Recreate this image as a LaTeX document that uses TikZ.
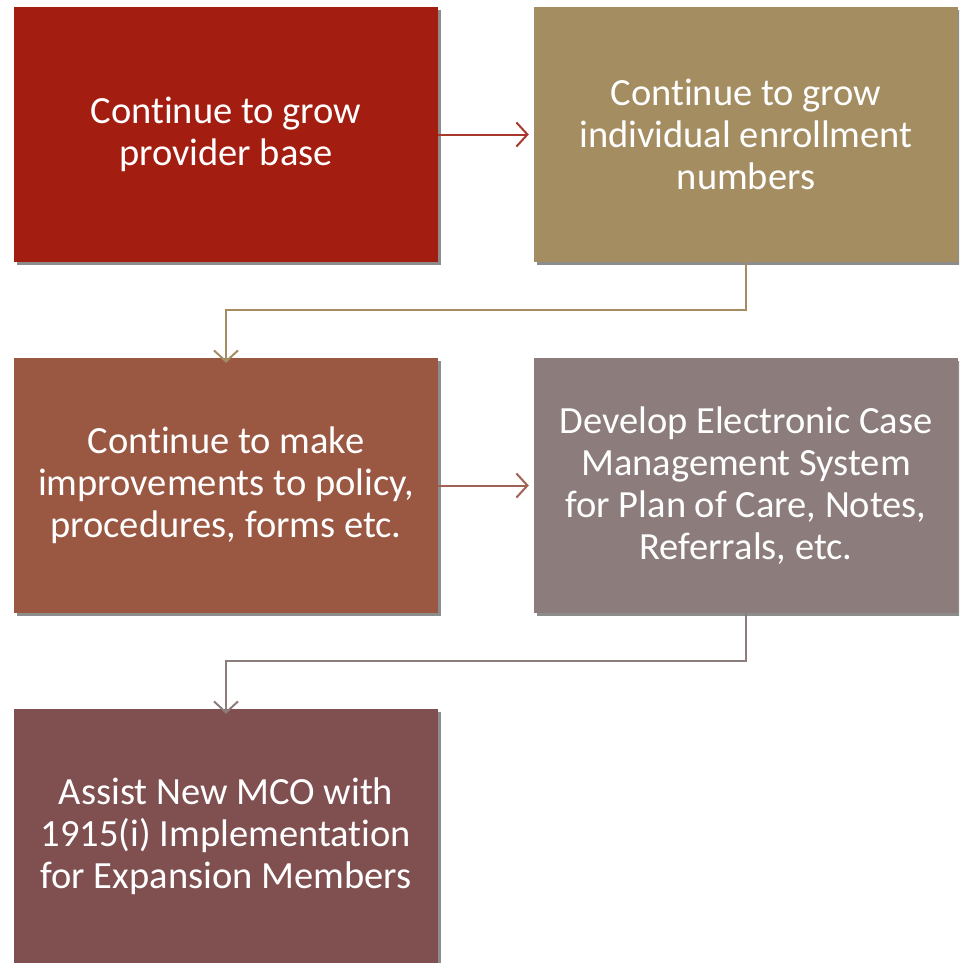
\documentclass[tikz,border=0pt]{standalone}
\usepackage{fontspec}
\setmainfont{Carlito}[RawFeature={-liga;-clig;-calt;-dlig}]
\usetikzlibrary{arrows.meta,shadows,positioning}
\definecolor{cA}{RGB}{163,30,17}
\definecolor{cB}{RGB}{165,141,98}
\definecolor{cC}{RGB}{154,88,67}
\definecolor{cD}{RGB}{140,124,124}
\definecolor{cE}{RGB}{128,80,81}
\definecolor{aA}{RGB}{168,55,45}
\definecolor{aC}{RGB}{160,98,84}
\tikzset{
  box/.style={draw=none, minimum width=424pt, minimum height=255pt, inner sep=0pt,
    align=center, text=white, font=\fontsize{38.5}{42}\selectfont,
    drop shadow={shadow xshift=2.5pt, shadow yshift=-3pt, fill=black, opacity=0.45}},
  conn/.style={line width=2pt, -{Straight Barb[length=11pt,width=24pt,line width=2pt]}},
}
\begin{document}
\begin{tikzpicture}[x=1pt,y=-1pt]
\useasboundingbox (0,0) rectangle (959,963);
\begin{scope}
\clip (0,0) rectangle (959,963);
\node[box, fill=cA] (b1) at (226,134.5) {Cont\kern0pt inue to grow\\provider base};
\node[box, fill=cB] (b2) at (746,134.5) {Cont\kern0pt inue to grow\\individual enrollment\\numbers};
\node[box, fill=cC] (b3) at (226,485.5) {Cont\kern0pt inue to make\\improvements to policy,\\procedures, forms etc.};
\node[box, fill=cD] (b4) at (746,485.5) {Develop Electronic Case\\Management System\\for Plan of Care, Notes,\\Referrals, etc.};
\node[box, fill=cE] (b5) at (226,836.5) {Assist New MCO with\\1915(i) Implementat\kern0pt ion\\for Expansion Members};
\coordinate (k2) at (746,310);
\coordinate (k4) at (746,661);
\draw[conn, draw=aA] (b1.east) -- ([xshift=-5pt]b2.west);
\draw[conn, draw=cB] (b2.south) -- (k2) -| ([yshift=-5pt]b3.north);
\draw[conn, draw=aC] (b3.east) -- ([xshift=-5pt]b4.west);
\draw[conn, draw=cD] (b4.south) -- (k4) -| ([yshift=-5pt]b5.north);
\end{scope}
\end{tikzpicture}
\end{document}
